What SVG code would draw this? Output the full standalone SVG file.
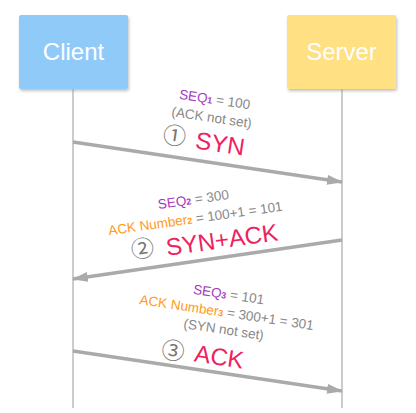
<svg xmlns="http://www.w3.org/2000/svg" width="416" height="413" viewBox="0 0 416 413">
<defs>
<filter id="sh" x="-10%" y="-10%" width="130%" height="130%"><feDropShadow dx="1" dy="2" stdDeviation="1.5" flood-color="#000" flood-opacity="0.25"/></filter>
<marker id="ahb" viewBox="0 0 16 10" refX="15" refY="5" markerWidth="16" markerHeight="10" markerUnits="userSpaceOnUse" orient="auto"><path d="M0,0 L16,5 L0,10 Z" fill="#aaaaaa"/></marker>
</defs>
<style>
text{font-family:"Liberation Sans",Arial,sans-serif;}
.box{font-size:24px;fill:#ffffff;text-anchor:middle;}
.life{stroke:#999999;stroke-width:1;fill:none;}
.msg{stroke:#aaaaaa;stroke-width:3.5;fill:none;marker-end:url(#ahb);}
.s{font-size:13.5px;fill:#888888;text-anchor:middle;}
.seq{fill:#a53bbd;}
.ackn{fill:#ff9a1a;}
.sub{font-size:9px;font-weight:bold;}
.big{font-size:24px;fill:#ee2260;text-anchor:middle;}
.num{font-family:"Noto Sans CJK SC","DejaVu Sans",sans-serif;font-size:23px;fill:#777777;text-anchor:middle;}
</style>
<rect width="416" height="413" fill="#ffffff"/>
<g id="client">
<rect x="19" y="15" width="109" height="74" rx="2" fill="#90caf9" filter="url(#sh)"/>
<text class="box" x="73.5" y="60">Client</text>
</g>
<g id="server">
<rect x="287" y="15" width="109" height="74" rx="2" fill="#ffe082" filter="url(#sh)"/>
<text class="box" x="341.5" y="60">Server</text>
</g>
<g id="connectors">
<line class="life" x1="73" y1="89" x2="73" y2="408"/>
<line class="life" x1="342" y1="89" x2="342" y2="408"/>
<line class="msg" x1="73" y1="142" x2="342" y2="182"/>
<line class="msg" x1="342" y1="240" x2="73" y2="279"/>
<line class="msg" x1="73" y1="351" x2="342" y2="391"/>
</g>
<g id="label1">
<text class="s" x="214" y="104" transform="rotate(8.5 214 104)"><tspan class="seq">SEQ<tspan class="sub">1</tspan></tspan> = 100</text>
<text class="s" x="211" y="122" transform="rotate(8.5 211 122)">(ACK not set)</text>
<text class="num" x="174.5" y="144" transform="rotate(8.5 174.5 136)">①</text>
<text class="big" x="219" y="152" transform="rotate(8.5 219 152)">SYN</text>
</g>
<g id="label2">
<text class="s" x="194" y="204" transform="rotate(-8 194 204)"><tspan class="seq">SEQ<tspan class="sub">2</tspan></tspan> = 300</text>
<text class="s" x="196" y="223" transform="rotate(-8 196 223)"><tspan class="ackn">ACK Number<tspan class="sub">2</tspan></tspan> = 100+1 = 101</text>
<text class="num" x="142.5" y="257" transform="rotate(-8 142.5 249)">②</text>
<text class="big" x="223" y="248" transform="rotate(-8 223 248)">SYN+ACK</text>
</g>
<g id="label3">
<text class="s" x="228" y="299" transform="rotate(8.5 228 299)"><tspan class="seq">SEQ<tspan class="sub">3</tspan></tspan> = 101</text>
<text class="s" x="226" y="317" transform="rotate(8.5 226 317)"><tspan class="ackn">ACK Number<tspan class="sub">3</tspan></tspan> = 300+1 = 301</text>
<text class="s" x="223" y="334" transform="rotate(8.5 223 334)">(SYN not set)</text>
<text class="num" x="173" y="359" transform="rotate(8.5 173 351)">③</text>
<text class="big" x="218" y="365" transform="rotate(8.5 218 365)">ACK</text>
</g>
</svg>
